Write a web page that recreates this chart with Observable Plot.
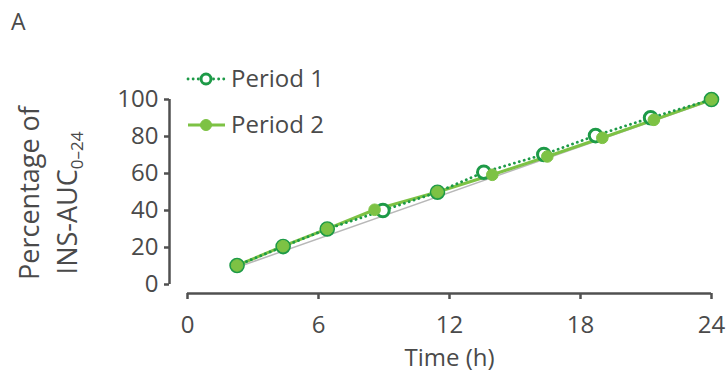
<!DOCTYPE html>
<html><head><meta charset="utf-8">
<script src="https://cdn.jsdelivr.net/npm/d3@7"></script>
<script src="https://cdn.jsdelivr.net/npm/@observablehq/plot@0.6"></script>
<style>
body{margin:0;background:#fff;}
#wrap{position:relative;width:727px;height:379px;overflow:hidden;}
</style></head><body><div id="wrap"></div>
<script>
// ---- data ----
const period1Time  = [2.27, 4.38, 6.4, 8.95, 11.45, 13.57, 16.32, 18.69, 21.21, 24];
const period1Value = [10.3, 20.5, 30.0, 40.0, 49.9, 60.7, 70.3, 80.5, 90.1, 100];
const period2Time  = [2.27, 4.38, 6.4, 8.57, 11.45, 13.96, 16.48, 19.0, 21.36, 24];
const period2Value = [10.3, 20.7, 30.1, 40.4, 50.0, 59.3, 69.2, 79.3, 89.0, 100];
const refTime  = [2.2, 24];
const refValue = [9.0, 99.5];
const xTicks = [0, 6, 12, 18, 24];
const yTicks = [0, 20, 40, 60, 80, 100];
const seriesNames = ["Period 1", "Period 2"];
const panelLabel = "A";
const xLabel = "Time (h)";
const yLabelLine1 = "Percentage of";
const yLabelMain = "INS-AUC";
const yLabelSub = "0\u201324";

// ---- style ----
const FONT = "'Open Sans', sans-serif";
const AX = "#505050", TXT = "#4a4a4a";
const C1 = "#1d9a47", C2 = "#7dc244";
const FS = 24;

const p1 = period1Time.map((t, i) => ({t, v: period1Value[i]}));
const p2 = period2Time.map((t, i) => ({t, v: period2Value[i]}));
const ref = refTime.map((t, i) => ({t, v: refValue[i]}));

const plot = Plot.plot({
  width: 727, height: 379,
  marginLeft: 187, marginRight: 16, marginTop: 99, marginBottom: 95,
  style: {fontFamily: FONT, fontSize: FS + "px", color: TXT, background: "#fff", overflow: "visible"},
  x: {domain: [0, 24]},
  y: {domain: [0, 100]},
  marks: [
    Plot.ruleY([0], {x1: 0, x2: 24, dy: 9, stroke: AX, strokeWidth: 2.5}),
    Plot.axisX(xTicks, {tickSize: 6, dy: 9, tickPadding: 16, stroke: AX, strokeWidth: 2.5, fill: TXT, fontSize: FS, label: null}),
    Plot.ruleX([0], {y1: 0, y2: 100, dx: -18, stroke: AX, strokeWidth: 2.5}),
    Plot.axisY(yTicks, {tickSize: 5, dx: -18, tickPadding: 6, stroke: AX, strokeWidth: 2.5, fill: TXT, fontSize: FS, label: null}),
    Plot.text([xLabel], {frameAnchor: "bottom", dy: 81, fill: TXT, fontSize: FS}),
    Plot.line(ref, {x: "t", y: "v", stroke: "#b8b8b8", strokeWidth: 1.5}),
    Plot.line(p2, {x: "t", y: "v", stroke: C2, strokeWidth: 3}),
    Plot.line(p1, {x: "t", y: "v", stroke: C1, strokeWidth: 2.8, strokeDasharray: "0.1,5", strokeLinecap: "round"}),
    Plot.dot(p1, {x: "t", y: "v", r: 6.3, stroke: C1, strokeWidth: 3, fill: "white"}),
    Plot.dot(p2, {x: "t", y: "v", r: 5.8, fill: C2, stroke: C2, strokeWidth: 1})
  ]
});
document.getElementById("wrap").appendChild(plot);

// ---- annotations: panel label, y label, legend ----
const svg = d3.select(plot);
svg.append("text").attr("x", 11).attr("y", 30).attr("fill", TXT).attr("text-anchor", "start")
  .style("font-family", FONT).style("font-size", "23px").text(panelLabel);

const yl = svg.append("g").attr("fill", TXT).style("font-family", FONT).style("font-size", "27px");
yl.append("text").attr("transform", "translate(39,193) rotate(-90)").attr("text-anchor", "middle").text(yLabelLine1);
const t2 = yl.append("text").attr("transform", "translate(77,203) rotate(-90)").attr("text-anchor", "middle");
t2.append("tspan").text(yLabelMain);
t2.append("tspan").attr("dy", 6).style("font-size", "17px").text(yLabelSub);

const lg = svg.append("g").style("font-family", FONT).style("font-size", FS + "px");
const rows = [
  {name: seriesNames[0], y: 79, color: C1, dash: "0.1,5", fill: "white", r: 5},
  {name: seriesNames[1], y: 125, color: C2, dash: null, fill: C2, r: 5.5}
];
rows.forEach(d => {
  const g = lg.append("g").attr("transform", `translate(0,${d.y})`);
  g.append("line").attr("x1", 188).attr("x2", 225).attr("stroke", d.color)
    .attr("stroke-width", d.dash ? 2.8 : 3).attr("stroke-linecap", d.dash ? "round" : "butt")
    .attr("stroke-dasharray", d.dash);
  g.append("circle").attr("cx", 206).attr("r", d.r).attr("fill", d.fill).attr("stroke", d.color).attr("stroke-width", d.dash ? 3 : 1);
  g.append("text").attr("x", 231).attr("dy", "0.35em").attr("text-anchor", "start").attr("fill", TXT).text(d.name);
});
</script></body></html>
